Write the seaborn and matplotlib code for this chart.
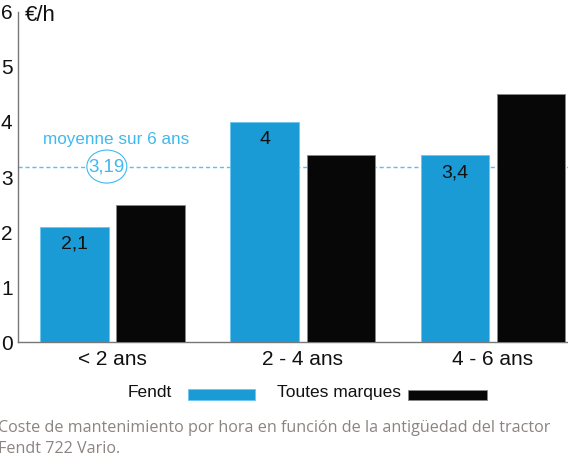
import matplotlib
matplotlib.use("Agg")
import matplotlib.pyplot as plt
import pandas as pd
import seaborn as sns
from matplotlib import font_manager
from matplotlib.patches import Ellipse, Rectangle

categories = ["< 2 ans", "2 - 4 ans", "4 - 6 ans"]
fendt = [2.1, 4.0, 3.4]
toutes_marques = [2.5, 3.4, 4.5]
fendt_labels = ["2,1", "4", "3,4"]
moyenne = 3.19
series_names = ["Fendt", "Toutes marques"]

BLUE = "#1b9bd5"
BLACK = "#070707"
LIGHT_BLUE = "#40b9ee"


def pick_font(options):
    # first family that is really installed
    for name in options:
        try:
            font_manager.findfont(name, fallback_to_default=False)
            return name
        except ValueError:
            continue
    return "DejaVu Sans"


narrow = pick_font(["Liberation Sans Narrow", "DejaVu Sans Condensed", "Liberation Sans"])

df = pd.DataFrame(
    {
        "age": categories * 2,
        "cost": fendt + toutes_marques,
        "serie": [series_names[0]] * 3 + [series_names[1]] * 3,
    }
)

sns.set_style("white")
plt.rcParams["font.family"] = [narrow, "DejaVu Sans"]

fig = plt.figure(figsize=(5.68, 4.58), dpi=100)
ax = fig.add_axes([0.032, 0.253, 0.968, 0.721])

sns.barplot(
    data=df,
    x="age",
    y="cost",
    hue="serie",
    palette=[BLUE, BLACK],
    saturation=1,
    width=0.8,
    gap=0.1,
    ax=ax,
    legend=False,
    zorder=3,
)
# thin edges like the original
for patch in ax.containers[0]:
    patch.set_edgecolor("#6cc6ee")
    patch.set_linewidth(0.6)
for patch in ax.containers[1]:
    patch.set_edgecolor("#888888")
    patch.set_linewidth(0.6)

# value labels inside the Fendt bars
for patch, lab in zip(ax.containers[0], fendt_labels):
    xc = patch.get_x() + patch.get_width() / 2
    ax.text(xc, patch.get_height() - 0.32, lab, ha="center", va="center",
            fontsize=14, color="#111111", zorder=5)

# average line
ax.axhline(moyenne, color="#55c3f0", lw=1.0, ls=(0, (3, 2)), zorder=1)
ax.text(0.02, 3.69, "moyenne sur 6 ans", color=LIGHT_BLUE, fontsize=12.3,
        ha="center", va="center", zorder=5)
ax.add_patch(Ellipse((-0.03, moyenne), 0.21, 0.6, fill=True, facecolor="white",
                     edgecolor=LIGHT_BLUE, lw=0.8, zorder=2))
ax.text(-0.03, moyenne, "3,19", color=LIGHT_BLUE, fontsize=13.5,
        ha="center", va="center", zorder=5)

ax.set_ylim(0, 6)
ax.set_xlim(-0.496, 2.394)
ax.set_yticks(range(0, 7))
ax.tick_params(axis="both", length=0, labelsize=15, colors="#111111")
ax.tick_params(axis="y", pad=4)
ax.tick_params(axis="x", pad=6)
ax.set_xlabel("")
ax.set_ylabel("")
for side in ["top", "right"]:
    ax.spines[side].set_visible(False)
for side in ["left", "bottom"]:
    ax.spines[side].set_color("#777777")
    ax.spines[side].set_linewidth(1.0)

ax.text(-0.46, 5.93, "€/h", fontsize=16, color="#111111", va="center", ha="left")

# legend: label first, then swatch
fig.text(0.225, 0.144, series_names[0], fontsize=12.5, color="#111111", ha="left", va="center")
fig.patches.append(Rectangle((0.331, 0.1266), 0.118, 0.024, transform=fig.transFigure,
                             facecolor=BLUE, edgecolor="#6cc6ee", lw=0.6, figure=fig))
fig.text(0.488, 0.144, series_names[1], fontsize=12.5, color="#111111", ha="left", va="center")
fig.patches.append(Rectangle((0.718, 0.1266), 0.139, 0.022, transform=fig.transFigure,
                             facecolor=BLACK, edgecolor="#888888", lw=0.6, figure=fig))

fig.text(-0.004, 0.0426,
         "Coste de mantenimiento por hora en función de la antigüedad del tractor\nFendt 722 Vario.",
         fontsize=11.6, color="#8c8481", family=["Open Sans", "DejaVu Sans"],
         ha="left", va="center", linespacing=1.38)

fig.savefig("out.png", dpi=100)
